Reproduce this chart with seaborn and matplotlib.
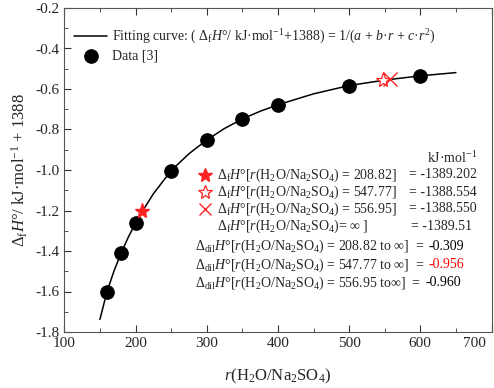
import numpy as np
import pandas as pd
import seaborn as sns
from matplotlib import pyplot as plt
from matplotlib.ticker import MultipleLocator

# values
data_r = [160, 180, 200, 250, 300, 350, 400, 500, 600]
data_h = [-1.600, -1.408, -1.262, -1.003, -0.852, -0.748, -0.678, -0.583, -0.535]

curve_r = [150, 160, 170, 180, 190, 200, 210, 225, 250, 275, 300, 325, 350,
           375, 400, 450, 500, 550, 600, 650]
curve_h = [-1.738, -1.600, -1.497, -1.408, -1.331, -1.262, -1.202, -1.118,
           -1.003, -0.920, -0.852, -0.795, -0.748, -0.710, -0.678, -0.624,
           -0.583, -0.556, -0.535, -0.519]

marked_r = [208.82, 547.77, 556.95]
marked_h = [-1.202, -0.554, -0.550]

INF = "\u221e"
form_labels = ["208.82]", "547.77]", "556.95]"]
form_values = ["= -1389.202", "= -1388.554", "= -1388.550"]
dil_labels = ["208.82 to " + INF + "]", "547.77 to " + INF + "]", "556.95 to" + INF + "]"]
dil_values = ["-0.309", "-0.956", "-0.960"]
dil_colors = ["black", "red", "black"]

sns.set_style("ticks")
plt.rcParams["font.family"] = ["Liberation Serif", "DejaVu Serif"]
plt.rcParams["mathtext.fontset"] = "custom"
plt.rcParams["mathtext.rm"] = "Liberation Serif"
plt.rcParams["mathtext.it"] = "Liberation Serif:italic"
plt.rcParams["axes.edgecolor"] = "#555555"

fig = plt.figure(figsize=(4.94, 3.88), dpi=100)
ax = fig.add_axes([64.3 / 494, 56 / 388, 427.2 / 494, 324 / 388])

PX0, PW, PY0, PH = 64.3, 427.2, 332, 324


def fx(px):
    return (px - PX0) / PW


def fy(py):
    return (PY0 - py) / PH


curve = pd.DataFrame({"r": curve_r, "h": curve_h})
pts = pd.DataFrame({"r": data_r, "h": data_h})

sns.lineplot(data=curve, x="r", y="h", color="black", lw=1.1, ax=ax,
             label=r"Fitting curve: ( $\Delta_{\rm f}H$°/ kJ·mol$^{-1}$+1388) = 1/($a$ + $b$·$r$ + $c$·$r^{2}$)")
sns.scatterplot(data=pts, x="r", y="h", color="black", s=95, edgecolor="black",
                ax=ax, label="Data [3]", zorder=3)

ax.plot(marked_r[0], marked_h[0], marker="*", ms=11, color="#ff2222", mec="#ff2222",
        ls="none", zorder=4)
ax.plot(marked_r[1], marked_h[1], marker="*", ms=11, mfc="white", mec="#ff2222",
        mew=0.9, ls="none", zorder=4)
ax.plot(marked_r[2], marked_h[2], marker="x", ms=10, color="#ff2222", mew=1.0,
        ls="none", zorder=4)

ax.set_xlim(100, 700)
ax.set_ylim(-1.8, -0.2)
ax.xaxis.set_major_locator(MultipleLocator(100))
ax.xaxis.set_minor_locator(MultipleLocator(50))
ax.yaxis.set_major_locator(MultipleLocator(0.2))
ax.yaxis.set_minor_locator(MultipleLocator(0.1))
ax.tick_params(which="both", direction="in", top=True, right=False,
               color="#333333", labelsize=11)
ax.tick_params(which="major", length=5)
ax.tick_params(which="minor", length=3)
# last x label sits left of its tick in the reference (edge of the picture)
ax.xaxis.set_major_formatter(plt.FuncFormatter(lambda v, p: "" if v >= 700 else f"{v:.0f}"))
ax.yaxis.set_major_formatter(plt.FuncFormatter(lambda v, p: f"{v:.1f}"))
ax.annotate("700", xy=(fx(474), 0), xycoords="axes fraction", xytext=(0, -3.5),
            textcoords="offset points", ha="center", va="top", fontsize=11)

ax.set_xlabel(r"$r$(H$_2$O/Na$_2$SO$_4$)", fontsize=12, labelpad=12)
ax.set_ylabel(r"$\Delta_{\rm f}H$°/ kJ·mol$^{-1}$ + 1388", fontsize=12, labelpad=4)

leg = ax.legend(loc="upper left", frameon=False, fontsize=10, handlelength=2.4,
                handletextpad=0.3, borderaxespad=0.3, labelspacing=0.3,
                bbox_to_anchor=(0.0, 0.97))

fs = 10
ax.text(fx(477), fy(158), r"kJ·mol$^{-1}$", transform=ax.transAxes, ha="right",
        va="center", fontsize=fs)

row_y = [175, 192, 209, 226]
markers = [dict(marker="*", ms=10, color="#ff2222", mec="#ff2222"),
           dict(marker="*", ms=10, mfc="white", mec="#ff2222", mew=0.9),
           dict(marker="x", ms=9, color="#ff2222", mew=1.0)]
for i in range(3):
    ax.plot(fx(205), fy(row_y[i]), transform=ax.transAxes, ls="none",
            clip_on=False, **markers[i])
    ax.text(fx(217), fy(row_y[i]),
            r"$\Delta_{\rm f}H$°[$r$(H$_2$O/Na$_2$SO$_4$) = " + form_labels[i],
            transform=ax.transAxes, ha="left", va="center", fontsize=fs)
    ax.text(fx(477), fy(row_y[i]), form_values[i], transform=ax.transAxes,
            ha="right", va="center", fontsize=fs)

ax.text(fx(217), fy(row_y[3]), r"$\Delta_{\rm f}H$°[$r$(H$_2$O/Na$_2$SO$_4$)= " + INF + " ]",
        transform=ax.transAxes, ha="left", va="center", fontsize=fs)
ax.text(fx(472), fy(row_y[3]), "= -1389.51", transform=ax.transAxes,
        ha="right", va="center", fontsize=fs)

dil_y = [246, 265, 283]
for i in range(3):
    t = ax.text(fx(195), fy(dil_y[i]),
                r"$\Delta_{\rm dil}H$°[$r$(H$_2$O/Na$_2$SO$_4$) = " + dil_labels[i] + "  =",
                transform=ax.transAxes, ha="left", va="center", fontsize=fs)
    ax.annotate(dil_values[i], xycoords=t, xy=(1, 0.5), xytext=(3, 0),
                textcoords="offset points", va="center", ha="left",
                fontsize=fs, color=dil_colors[i])

fig.savefig("out.png", dpi=100)
